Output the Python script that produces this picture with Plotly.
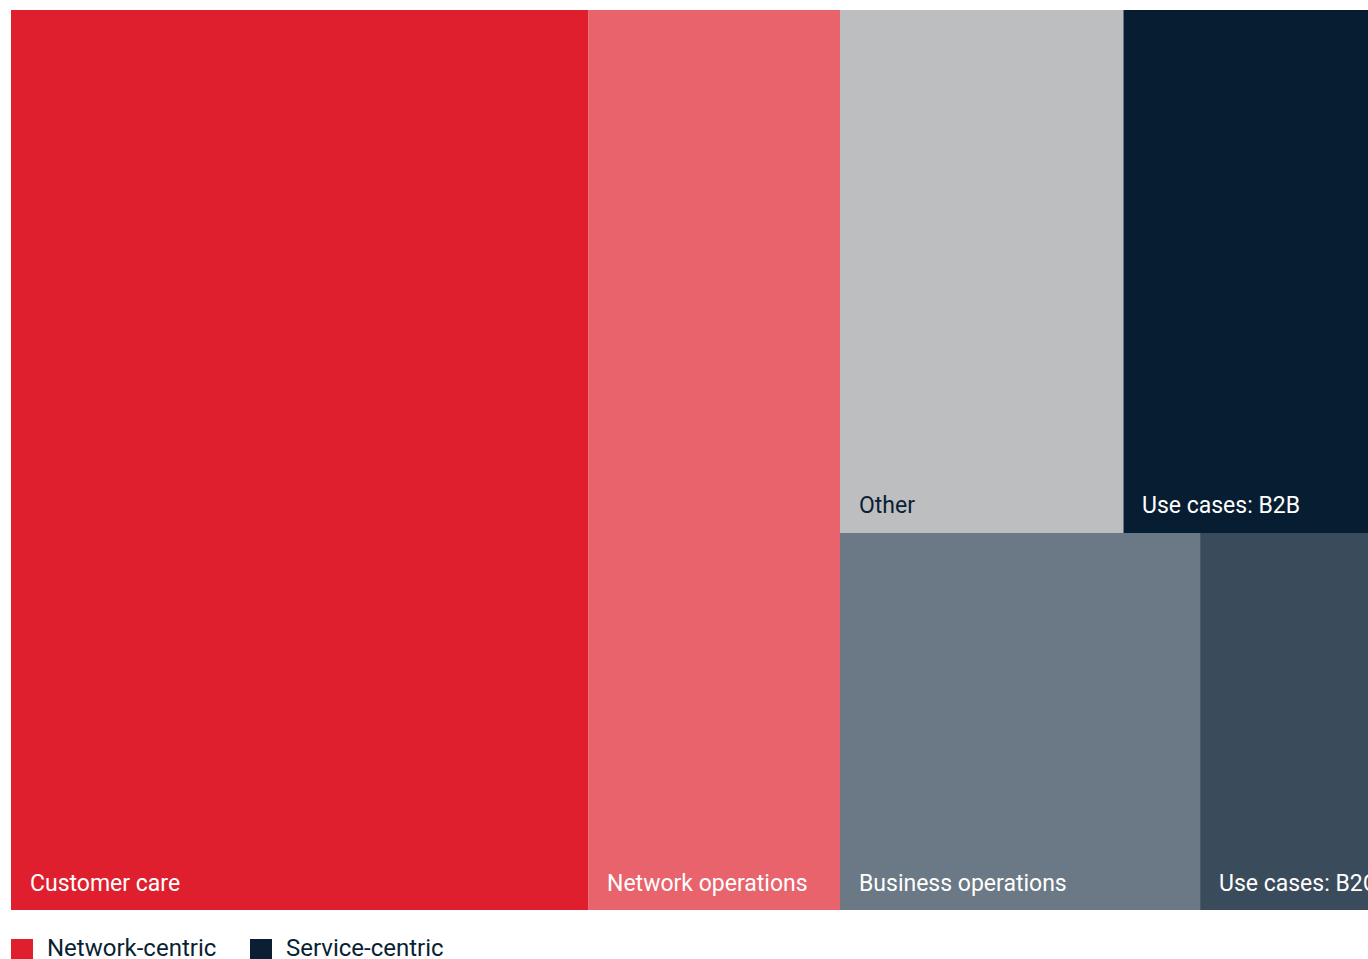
import plotly.graph_objects as go

# Share of use cases (percent of total)
categories = ["Customer care", "Network operations", "Other",
              "Use cases: B2B", "Business operations", "Use cases: B2C"]
values = [41.7, 18.2, 11.9, 11.4, 10.9, 5.9]

# Tiling: column / row within the column for each tile
tile_column = [0, 1, 2, 2, 2, 2]
tile_row = [0, 0, 0, 0, 1, 1]

colors = ["#DF1F2E", "#E8636C", "#BDBEC0", "#071D31", "#6B7885", "#3A4B5B"]
label_colors = ["#FFFFFF", "#FFFFFF", "#0A1F33", "#FFFFFF", "#FFFFFF", "#FFFFFF"]

legend_names = ["Network-centric", "Service-centric"]
legend_colors = ["#DF1F2E", "#0A1F33"]

FONT = "Roboto"
FIG_W, FIG_H = 1368, 959
M_L, M_R, M_T, M_B = 11, 0, 10, 49
PLOT_W = FIG_W - M_L - M_R
PLOT_H = FIG_H - M_T - M_B


def layout_tiles(vals, cols, rows):
    """Slice columns across x (width = column total), then rows down y,
    then tiles across each row."""
    total = sum(vals)
    n_cols = max(cols) + 1
    rects = [None] * len(vals)
    x0 = 0.0
    for c in range(n_cols):
        idx_c = [i for i in range(len(vals)) if cols[i] == c]
        col_sum = sum(vals[i] for i in idx_c)
        col_w = col_sum / total * 100.0
        y_top = 1.0
        for r in sorted(set(rows[i] for i in idx_c)):
            idx_r = [i for i in idx_c if rows[i] == r]
            row_sum = sum(vals[i] for i in idx_r)
            row_h = row_sum / col_sum
            xx = x0
            for i in idx_r:
                w = vals[i] / row_sum * col_w
                rects[i] = (xx, xx + w, y_top - row_h, y_top)
                xx += w
            y_top -= row_h
        x0 += col_w
    return rects


rects = layout_tiles(values, tile_column, tile_row)

fig = go.Figure()
for i, (name, (xa, xb, ya, yb), col) in enumerate(zip(categories, rects, colors)):
    fig.add_trace(go.Scatter(
        x=[xa, xb, xb, xa, xa], y=[ya, ya, yb, yb, ya],
        mode="lines", fill="toself", fillcolor=col,
        line=dict(width=0, color=col), showlegend=False,
        hoverinfo="text", text=f"{name}: {values[i]}%",
    ))

for name, (xa, xb, ya, yb), tc in zip(categories, rects, label_colors):
    fig.add_annotation(
        x=xa, y=ya, xref="x", yref="y", text=name, showarrow=False,
        xanchor="left", yanchor="middle", xshift=17, yshift=27,
        font=dict(family=FONT, size=23, color=tc),
    )


# Legend: colour swatches with labels below the tiles (pixel -> paper)
def px_x(px):
    return (px - M_L) / PLOT_W


def px_y(py):
    return (FIG_H - M_B - py) / PLOT_H


legend_x = [11, 250]
for lx, name, col in zip(legend_x, legend_names, legend_colors):
    fig.add_shape(
        type="rect", xref="paper", yref="paper",
        x0=px_x(lx), x1=px_x(lx + 22), y0=px_y(961), y1=px_y(939),
        fillcolor=col, line=dict(width=0),
    )
    fig.add_annotation(
        x=px_x(lx + 34), y=px_y(948), xref="paper", yref="paper",
        text=name, showarrow=False, xanchor="left", yanchor="middle",
        font=dict(family=FONT, size=24, color="#0A1F33"),
    )

fig.update_xaxes(range=[0, 98.05], visible=False, fixedrange=True)
fig.update_yaxes(range=[0, 1], visible=False, fixedrange=True)

fig.update_layout(
    width=FIG_W, height=FIG_H,
    margin=dict(l=M_L, r=M_R, t=M_T, b=M_B, autoexpand=False),
    paper_bgcolor="white", plot_bgcolor="white",
    showlegend=False,
)

fig.write_html("out.html")
